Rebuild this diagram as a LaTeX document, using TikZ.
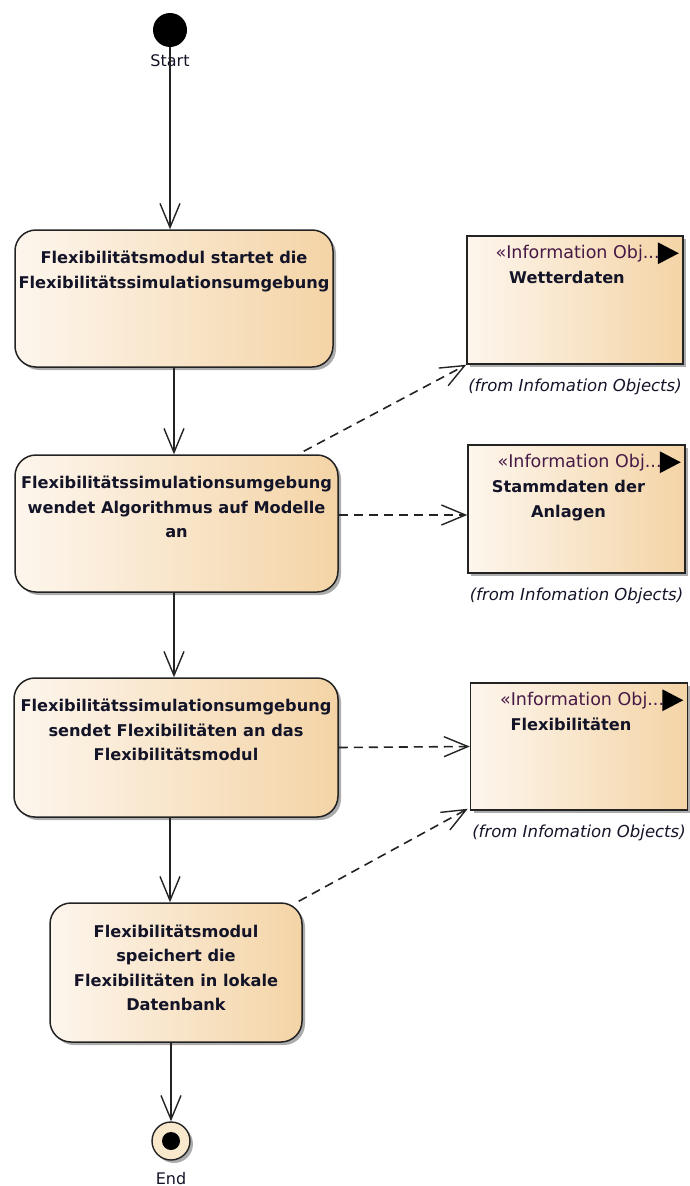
\documentclass[tikz,border=0pt]{standalone}
\usepackage{fontspec}
\setmainfont{DejaVu Sans}
\usetikzlibrary{arrows.meta,shadows}

\definecolor{boxleft}{RGB}{253,246,237}
\definecolor{boxright}{RGB}{244,212,166}
\definecolor{frame}{RGB}{35,35,35}
\definecolor{stereo}{RGB}{70,25,70}
\definecolor{txt}{RGB}{20,20,40}
\definecolor{endfill}{RGB}{250,232,205}

\begin{document}
\begin{tikzpicture}[x=1pt,y=-1pt,
  shade/.style={drop shadow={shadow xshift=3pt,shadow yshift=-3pt,opacity=0.5,fill=black!65}},
  actbox/.style={draw=frame, line width=1.5pt, rounded corners=21pt,
    left color=boxleft, right color=boxright, shade, inner sep=0pt},
  acttext/.style={anchor=north, inner sep=0pt, align=center, text=txt,
    font=\bfseries\fontsize{16.2}{24.5}\selectfont},
  infobox/.style={draw=frame, line width=1.5pt, left color=boxleft,
    right color=boxright, shade, inner sep=0pt},
  stereotxt/.style={anchor=base east, inner sep=0pt, text=stereo,
    font=\fontsize{17.5}{20}\selectfont},
  nametxt/.style={anchor=north, inner sep=0pt, align=center, text=txt,
    font=\bfseries\fontsize{16.2}{25}\selectfont},
  fromtxt/.style={anchor=base, inner sep=0pt, text=txt,
    font=\itshape\fontsize{16.5}{20}\selectfont},
  lbl/.style={anchor=base, inner sep=0pt, text=txt,
    font=\fontsize{16}{20}\selectfont},
  flow/.style={draw=frame, line width=1.3pt,
    -{Straight Barb[length=24pt,width=20pt,line width=1.4pt]}},
  depend/.style={draw=frame, line width=1.6pt, dash pattern=on 9pt off 6pt,
    -{Straight Barb[length=24pt,width=20pt,line width=1.4pt]}}
]
\useasboundingbox (0,0) rectangle (689,1186);

% initial node
\node[lbl] (stl) at (170,66) {Start};
\node[circle, fill=black, minimum size=34pt, inner sep=0pt] (st) at (170,30) {};

% actions
\node[actbox, minimum width=318pt, minimum height=137pt] (a1) at (174,298.5) {};
\node[acttext] (a1t) at ([yshift=-22pt]a1.north)
  {Flexibilitätsmodul startet die\\Flexibilitätssimulationsumgebung};

\node[actbox, minimum width=323pt, minimum height=137pt] (a2) at (176.5,523.5) {};
\node[acttext] (a2t) at ([yshift=-22pt]a2.north)
  {Flexibilitätssimulationsumgebung\\wendet Algorithmus auf Modelle\\an};

\node[actbox, minimum width=324pt, minimum height=139pt] (a3) at (176,747.5) {};
\node[acttext] (a3t) at ([yshift=-22pt]a3.north)
  {Flexibilitätssimulationsumgebung\\sendet Flexibilitäten an das\\Flexibilitätsmodul};

\node[actbox, minimum width=252pt, minimum height=139pt] (a4) at (176,972.5) {};
\node[acttext] (a4t) at ([yshift=-22pt]a4.north)
  {Flexibilitätsmodul\\speichert die\\Flexibilitäten in lokale\\Datenbank};

% final node
\node[circle, draw=frame, line width=1.4pt, fill=endfill, minimum size=38pt,
  inner sep=0pt, shade] (en) at (171,1141) {};
\node[circle, fill=black, minimum size=18pt, inner sep=0pt] (endot) at (en) {};
\node[lbl] (enl) at (171,1184) {End};

% information objects
\node[infobox, minimum width=216pt, minimum height=128pt] (i1) at (575,300) {};
\node[stereotxt] (i1s) at ([xshift=-24pt,yshift=-23pt]i1.north east) {«Information Obj...};
\fill[black] ([xshift=-26pt,yshift=-7pt]i1.north east) -- ([xshift=-5pt,yshift=-18pt]i1.north east)
  -- ([xshift=-26pt,yshift=-29pt]i1.north east) -- cycle;
\node[nametxt] (i1n) at ([xshift=-8pt,yshift=-36pt]i1.north) {Wetterdaten};
\node[fromtxt] (i1f) at ([yshift=-27pt]i1.south) {(from Infomation Objects)};

\node[infobox, minimum width=217pt, minimum height=128pt] (i2) at (576.5,509) {};
\node[stereotxt] (i2s) at ([xshift=-24pt,yshift=-23pt]i2.north east) {«Information Obj...};
\fill[black] ([xshift=-26pt,yshift=-7pt]i2.north east) -- ([xshift=-5pt,yshift=-18pt]i2.north east)
  -- ([xshift=-26pt,yshift=-29pt]i2.north east) -- cycle;
\node[nametxt] (i2n) at ([xshift=-8pt,yshift=-36pt]i2.north) {Stammdaten der\\Anlagen};
\node[fromtxt] (i2f) at ([yshift=-27pt]i2.south) {(from Infomation Objects)};

\node[infobox, minimum width=217pt, minimum height=127pt] (i3) at (579,746.5) {};
\node[stereotxt] (i3s) at ([xshift=-24pt,yshift=-23pt]i3.north east) {«Information Obj...};
\fill[black] ([xshift=-26pt,yshift=-7pt]i3.north east) -- ([xshift=-5pt,yshift=-18pt]i3.north east)
  -- ([xshift=-26pt,yshift=-29pt]i3.north east) -- cycle;
\node[nametxt] (i3n) at ([xshift=-8pt,yshift=-36pt]i3.north) {Flexibilitäten};
\node[fromtxt] (i3f) at ([yshift=-27pt]i3.south) {(from Infomation Objects)};

% control flow
\draw[flow] (st) -- (st |- a1.north);
\draw[flow] (a1.south -| a1t) -- (a2.north -| a1t);
\draw[flow] (a2.south -| a1t) -- (a3.north -| a1t);
\draw[flow] (a3.south -| st) -- (a4.north -| st);
\draw[flow] (a4.south -| en) -- (en);

% object dependencies
\draw[depend] ([xshift=-35pt,yshift=3pt]a2.north east) -- (i1.south west);
\draw[depend] ([yshift=8.5pt]a2.east) -- ([yshift=-6pt]i2.west);
\draw[depend] (a3.east) -- (i3.west);
\draw[depend] ([xshift=-4pt,yshift=1pt]a4.north east) -- ([xshift=-2pt,yshift=2pt]i3.south west);
\end{tikzpicture}
\end{document}
